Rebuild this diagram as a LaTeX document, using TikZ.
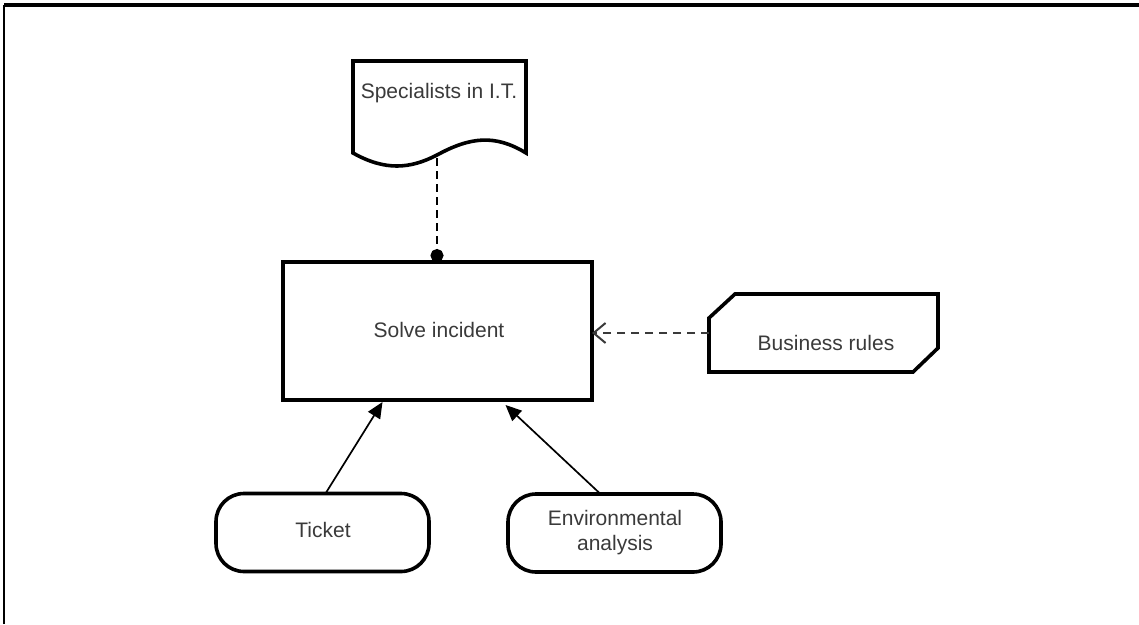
\documentclass[tikz,border=0pt]{standalone}
\usepackage{fontspec}
\setmainfont{Liberation Sans}
\usetikzlibrary{arrows.meta,calc}
\definecolor{ink}{HTML}{3A3A3A}
\begin{document}
\begin{tikzpicture}[x=1pt,y=-1pt,
  lbl/.style={font=\fontsize{21}{25}\selectfont,text=ink,align=center,inner sep=0pt},
  outline/.style={draw=black,line width=3.6pt},
  frame/.style={inner sep=0pt,outer sep=0pt},
  pill/.style={outline,rounded corners=28pt,minimum width=213pt,minimum height=78pt,inner sep=0pt,outer sep=0pt},
  flow/.style={line width=1.7pt,-{Triangle[length=16pt,width=14pt]}},
  ctrl/.style={line width=2.6pt,dash pattern=on 8pt off 5pt,-{Circle[length=13pt]}},
  rule/.style={line width=2pt,draw=ink,dash pattern=on 8pt off 6pt,-{Straight Barb[length=12pt,width=20pt,line width=2pt]}}]
\useasboundingbox (0,0) rectangle (1139,624);

% page frame (only top and left edges in view)
\draw[line width=1.8pt] (4,624) -- (4,5);
\draw[line width=3.6pt] (4,5) -- (1139,5);

% main activity
\node[outline,frame,minimum width=309pt,minimum height=138pt] (solve) at (437.5,331) {};
\node[lbl] (solvetxt) at (439,330) {Solve incident};

% document-shaped resource
\node[frame,minimum width=173pt,minimum height=92pt] (spec) at (439.5,107) {};
\draw[outline,line join=miter]
  (spec.south west) -- (spec.north west) -- (spec.north east) -- (spec.south east)
  .. controls (495,134) and (470,137) .. (437,155)
  .. controls (410,169) and (385,171) .. (spec.south west) -- cycle;
\node[lbl] (spectxt) at (439,93) {Specialists in I.T.};
\coordinate (specbot) at (437,158);

% chamfered rule box
\node[frame,minimum width=229pt,minimum height=78pt] (biz) at (823.5,333) {};
\draw[outline,line join=miter]
  ($(biz.north west)+(26,0)$) -- (biz.north east) -- ($(biz.south east)+(0,-24)$)
  -- ($(biz.south east)+(-25,0)$) -- (biz.south west) -- ($(biz.north west)+(0,24)$) -- cycle;
\node[lbl] (biztxt) at (826,343) {Business rules};

% inputs
\node[pill] (ticket) at (322.5,532.5) {};
\node[lbl] (tickettxt) at (323,530) {Ticket};
\node[pill] (env) at (614.5,533) {};
\node[lbl] (envtxt) at (615,533) {Environmental\\analysis};

% connectors
\draw[ctrl] (specbot) -- (specbot |- solve.north);
\draw[rule] (biz.west) -- (solve.east |- biz.west);
\draw[flow] ([xshift=3pt]ticket.north) -- ([xshift=-55pt,yshift=-2pt]solve.south);
\draw[flow] ([xshift=-14pt]env.north) -- ([xshift=68pt,yshift=-5pt]solve.south);
\end{tikzpicture}
\end{document}
